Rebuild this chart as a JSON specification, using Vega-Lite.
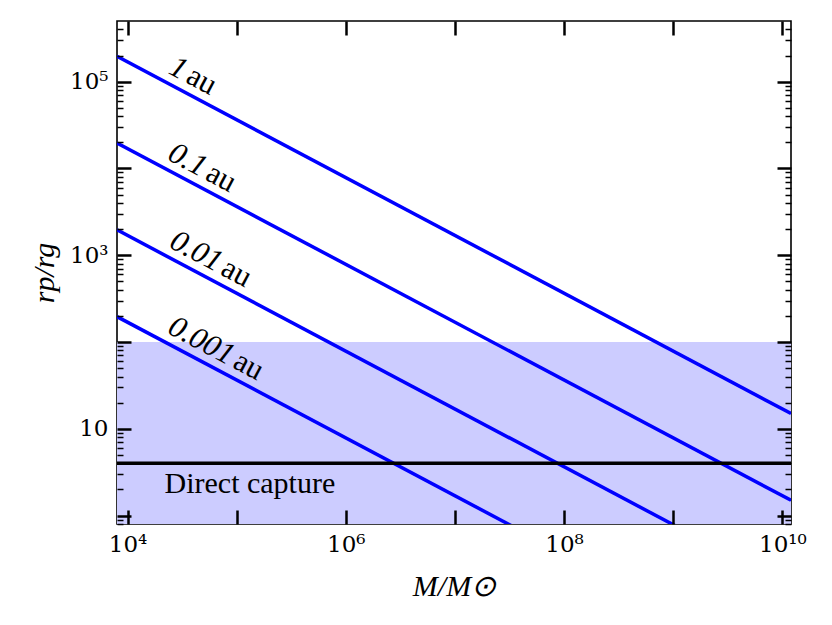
{
  "$schema": "https://vega.github.io/schema/vega-lite/v6.json",
  "width": 674,
  "height": 503,
  "autosize": "none",
  "padding": {"left": 117, "top": 21, "right": 41, "bottom": 101},
  "background": "white",
  "config": {
    "view": {"stroke": "black", "strokeWidth": 1.6},
    "axis": {
      "domain": false,
      "grid": false,
      "labelFont": "DejaVu Serif",
      "labelFontSize": 23,
      "labelColor": "black",
      "tickColor": "black",
      "titleFont": "Liberation Serif",
      "titleFontSize": 30,
      "titleFontWeight": "normal",
      "titleFontStyle": "italic",
      "titleColor": "black"
    }
  },
  "datasets": {
    "region": [{"x1": 8000, "x2": 1.2e10, "y1": 0.8, "y2": 100}],
    "lines": [
      {"label": "1 au", "M": 8000, "r": 196000},
      {"label": "1 au", "M": 1.2e10, "r": 15.0},
      {"label": "0.1 au", "M": 8000, "r": 19600},
      {"label": "0.1 au", "M": 1.2e10, "r": 1.50},
      {"label": "0.01 au", "M": 8000, "r": 1960},
      {"label": "0.01 au", "M": 1.2e10, "r": 0.150},
      {"label": "0.001 au", "M": 8000, "r": 196},
      {"label": "0.001 au", "M": 1.2e10, "r": 0.0150}
    ],
    "labels": [
      {"num": "1", "unit": "au", "M": 28700, "r": 83600},
      {"num": "0.1", "unit": "au", "M": 43300, "r": 6360},
      {"num": "0.01", "unit": "au", "M": 60000, "r": 511},
      {"num": "0.001", "unit": "au", "M": 77300, "r": 43.2}
    ],
    "capture": [{"r": 4, "M": 21800, "rt": 1.81, "text": "Direct capture"}]
  },
  "resolve": {"axis": {"x": "independent", "y": "independent"}},
  "layer": [
    {
      "data": {"name": "region"},
      "mark": {"type": "rect", "color": "#ccccff", "clip": true},
      "encoding": {
        "x": {
          "field": "x1", "type": "quantitative",
          "scale": {"type": "log", "domain": [8000, 1.2e10], "nice": false},
          "axis": {
            "orient": "bottom",
            "zindex": 1,
            "title": "M/M⊙",
            "values": [10000, 100000, 1000000, 10000000, 100000000, 1000000000, 10000000000],
            "labelExpr": "datum.value == 1e4 ? '10⁴' : datum.value == 1e6 ? '10⁶' : datum.value == 1e8 ? '10⁸' : datum.value == 1e10 ? '10¹⁰' : ''",
            "tickSize": -14,
            "tickWidth": 2.5,
            "labelPadding": 23,
            "labelFlush": false,
            "labelOverlap": false,
            "titlePadding": 15
          }
        },
        "x2": {"field": "x2"},
        "y": {
          "field": "y1", "type": "quantitative",
          "scale": {"type": "log", "domain": [0.8, 500000], "nice": false},
          "axis": {
            "orient": "left",
            "zindex": 1,
            "title": "rp/rg",
            "values": [0.8, 0.9, 1, 2, 3, 4, 5, 6, 7, 8, 9, 10, 20, 30, 40, 50, 60, 70, 80, 90, 100, 200, 300, 400, 500, 600, 700, 800, 900, 1000, 2000, 3000, 4000, 5000, 6000, 7000, 8000, 9000, 10000, 20000, 30000, 40000, 50000, 60000, 70000, 80000, 90000, 100000, 200000, 300000, 400000],
            "labelExpr": "datum.value == 10 ? '10' : datum.value == 1000 ? '10³' : datum.value == 100000 ? '10⁵' : ''",
            "tickSize": {"condition": {"test": "indexof([1,10,100,1000,10000,100000], datum.value) >= 0", "value": -14}, "value": -6},
            "tickWidth": {"condition": {"test": "indexof([1,10,100,1000,10000,100000], datum.value) >= 0", "value": 2.5}, "value": 1.5},
            "labelPadding": 23,
            "labelFlush": false,
            "labelOverlap": false,
            "titlePadding": 10
          }
        },
        "y2": {"field": "y2"}
      }
    },
    {
      "data": {"name": "lines"},
      "mark": {"type": "line", "color": "#0000ff", "strokeWidth": 3.5, "clip": true},
      "encoding": {
        "x": {
          "field": "M", "type": "quantitative",
          "scale": {"type": "log", "domain": [8000, 1.2e10], "nice": false},
          "axis": null
        },
        "y": {
          "field": "r", "type": "quantitative",
          "scale": {"type": "log", "domain": [0.8, 500000], "nice": false},
          "axis": {
            "orient": "right",
            "zindex": 1,
            "title": null,
            "values": [0.8, 0.9, 1, 2, 3, 4, 5, 6, 7, 8, 9, 10, 20, 30, 40, 50, 60, 70, 80, 90, 100, 200, 300, 400, 500, 600, 700, 800, 900, 1000, 2000, 3000, 4000, 5000, 6000, 7000, 8000, 9000, 10000, 20000, 30000, 40000, 50000, 60000, 70000, 80000, 90000, 100000, 200000, 300000, 400000],
            "labels": false,
            "tickSize": {"condition": {"test": "indexof([1,10,100,1000,10000,100000], datum.value) >= 0", "value": -14}, "value": -6},
            "tickWidth": {"condition": {"test": "indexof([1,10,100,1000,10000,100000], datum.value) >= 0", "value": 2.5}, "value": 1.5}
          }
        },
        "detail": {"field": "label"}
      }
    },
    {
      "data": {"name": "capture"},
      "mark": {"type": "rule", "color": "black", "strokeWidth": 3.5},
      "encoding": {
        "y": {"field": "r", "type": "quantitative", "scale": {"type": "log", "domain": [0.8, 500000], "nice": false}, "axis": null}
      }
    },
    {
      "data": {"name": "capture"},
      "mark": {"type": "text", "font": "Liberation Serif", "fontSize": 30, "align": "left", "baseline": "alphabetic", "color": "black"},
      "encoding": {
        "x": {
          "field": "M", "type": "quantitative",
          "scale": {"type": "log", "domain": [8000, 1.2e10], "nice": false},
          "axis": {
            "orient": "top",
            "zindex": 1,
            "title": null,
            "values": [10000, 100000, 1000000, 10000000, 100000000, 1000000000, 10000000000],
            "labels": false,
            "ticks": true,
            "tickSize": -14,
            "tickWidth": 2.5
          }
        },
        "y": {"field": "rt", "type": "quantitative", "scale": {"type": "log", "domain": [0.8, 500000], "nice": false}, "axis": null},
        "text": {"field": "text"}
      }
    },
    {
      "data": {"name": "labels"},
      "mark": {"type": "text", "font": "Liberation Serif", "fontSize": 31, "fontStyle": "italic", "align": "right", "baseline": "alphabetic", "angle": 28, "dy": -9, "dx": -1, "color": "black"},
      "encoding": {
        "x": {"field": "M", "type": "quantitative", "scale": {"type": "log", "domain": [8000, 1.2e10], "nice": false}, "axis": null},
        "y": {"field": "r", "type": "quantitative", "scale": {"type": "log", "domain": [0.8, 500000], "nice": false}, "axis": null},
        "text": {"field": "num"}
      }
    },
    {
      "data": {"name": "labels"},
      "mark": {"type": "text", "font": "Liberation Serif", "fontSize": 31, "align": "left", "baseline": "alphabetic", "angle": 28, "dy": -9, "dx": 3, "color": "black"},
      "encoding": {
        "x": {"field": "M", "type": "quantitative", "scale": {"type": "log", "domain": [8000, 1.2e10], "nice": false}, "axis": null},
        "y": {"field": "r", "type": "quantitative", "scale": {"type": "log", "domain": [0.8, 500000], "nice": false}, "axis": null},
        "text": {"field": "unit"}
      }
    }
  ]
}
